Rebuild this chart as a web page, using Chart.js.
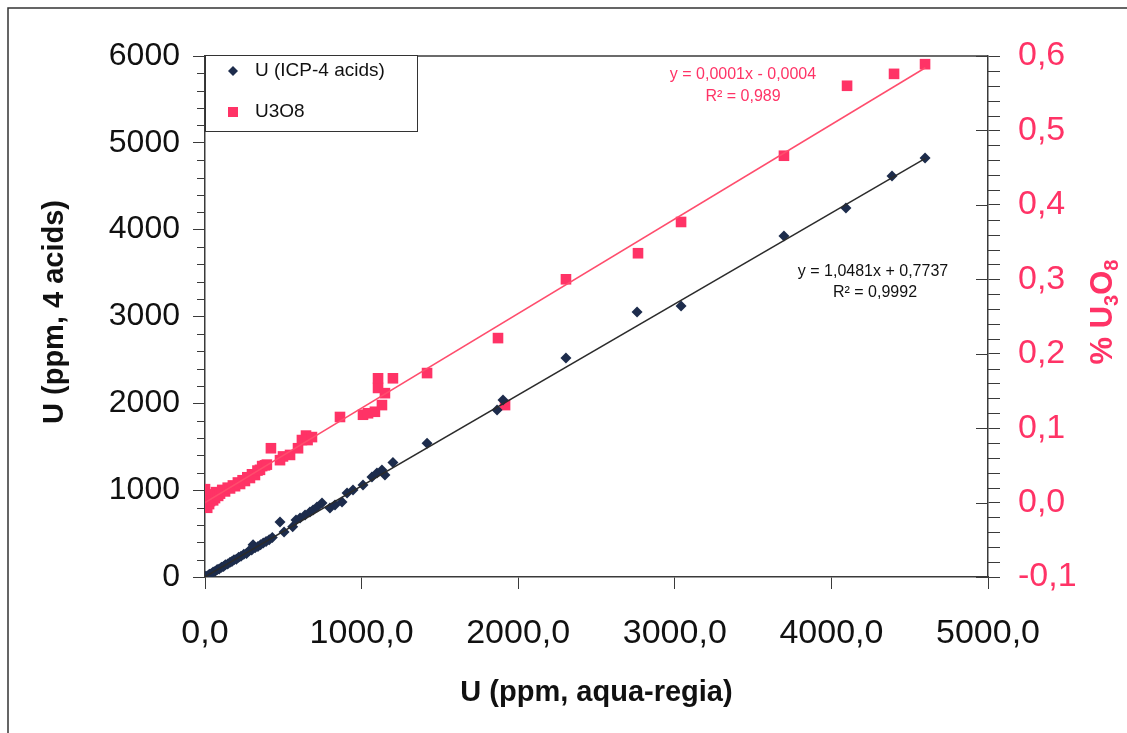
<!DOCTYPE html>
<html>
<head>
<meta charset="utf-8">
<script src="https://cdn.jsdelivr.net/npm/chart.js@4"></script>
<style>
  html,body{margin:0;padding:0;background:#fff}
  #wrap{width:1127px;height:733px;position:relative}
</style>
</head>
<body>
<div id="wrap"><canvas id="c"></canvas></div>
<script>
// U (ppm) by aqua-regia vs U (ppm) by 4-acid digestion
const uAquaRegia = [5,15,28,40,52,65,78,90,105,118,130,145,160,172,185,200,215,230,248,265,280,298,307,320,338,355,372,390,410,430,
  479,505,560,581,607,639,670,690,715,747,798,830,875,907,945,1009,1066,1098,1130,1149,1200,1418,1865,1903,2305,2759,3040,3697,4093,4387,4598];
const uFourAcids = [8,12,32,38,58,66,85,92,112,120,140,150,170,178,198,205,228,240,262,272,298,310,370,338,352,372,392,408,428,455,
  633,518,580,656,679,714,749,772,806,852,795,829,864,967,1002,1060,1152,1198,1232,1175,1320,1540,1923,2038,2522,3052,3121,3927,4250,4618,4826];

// U (ppm) by aqua-regia vs % U3O8
const u3o8AquaRegia = [0,5,10,14,20,26,32,45,52,64,70,84,96,110,128,145,160,178,192,210,224,240,255,270,287,300,319,335,351,365,383,395,421,
  479,498,543,594,619,645,655,683,862,1009,1041,1085,1105,1105,1130,1149,1200,1418,1871,1916,2305,2765,3040,3697,4100,4400,4598];
const u3o8Pct = [0.018,-0.004,0.004,-0.007,0.009,-0.002,0.002,0.011,0.003,0.006,0.014,0.009,0.012,0.017,0.015,0.020,0.019,0.023,0.022,0.027,0.025,0.030,0.029,0.034,0.033,0.038,0.037,0.043,0.044,0.049,0.050,0.051,0.073,
  0.057,0.062,0.064,0.073,0.084,0.090,0.084,0.088,0.115,0.118,0.120,0.122,0.154,0.167,0.131,0.147,0.167,0.174,0.221,0.131,0.300,0.335,0.377,0.466,0.560,0.576,0.589];

// trend lines (as drawn)
const fitU = {slope:1.0481, icept:0.7737};
const fitU3O8 = {slope:0.000127, icept:0.0};
const fitRange = [0, 4600];

const legendLabels = ['U (ICP-4 acids)', 'U3O8'];
const eqU = ['y = 1,0481x + 0,7737', 'R\u00b2 = 0,9992'];
const eqU3O8 = ['y = 0,0001x - 0,0004', 'R\u00b2 = 0,989'];
const xTitle = 'U (ppm, aqua-regia)';
const yTitle = 'U (ppm, 4 acids)';

const F = "'Liberation Sans', Arial, Helvetica, sans-serif";
const BLUE = '#1d2c4c', RED = '#ff3366', AXIS = '#3a3a3a';
const fmt1 = v => (Math.abs(v) < 1e-9 ? 0 : v).toFixed(1).replace('.', ',');

const pts = (xs, ys) => xs.map((x, i) => ({x, y: ys[i]}));
const line = f => fitRange.map(x => ({x, y: f.slope * x + f.icept}));

const decor = {
  id: 'decor',
  afterDraw(chart) {
    const {ctx, chartArea: a, scales} = chart;
    ctx.save();
    // outer frame
    ctx.strokeStyle = '#333'; ctx.lineWidth = 1.5;
    ctx.beginPath(); ctx.moveTo(8, 733); ctx.lineTo(8, 8); ctx.lineTo(1127, 8); ctx.stroke();
    // top of plot area
    ctx.strokeStyle = AXIS; ctx.lineWidth = 1.5;
    ctx.beginPath(); ctx.moveTo(a.left, a.top); ctx.lineTo(a.right, a.top); ctx.stroke();
    // minor ticks
    ctx.lineWidth = 1;
    const y = scales.y, y2 = scales.y2;
    ctx.beginPath();
    for (let v = 200; v < 6000; v += 200) {
      if (v % 1000 === 0) continue;
      const py = Math.round(y.getPixelForValue(v)) + 0.5;
      ctx.moveTo(a.left - 8, py); ctx.lineTo(a.left, py);
    }
    for (let k = -5; k <= 30; k++) {
      const v = k * 0.02;
      const py = Math.round(y2.getPixelForValue(v)) + 0.5;
      if (k % 5 === 0) { ctx.moveTo(a.right - 12, py); ctx.lineTo(a.right, py); }
      else { ctx.moveTo(a.right, py); ctx.lineTo(a.right + 12, py); }
    }
    ctx.stroke();

    // legend
    ctx.fillStyle = '#fff'; ctx.strokeStyle = '#333'; ctx.lineWidth = 1;
    ctx.fillRect(205, 55, 212, 76); ctx.strokeRect(205.5, 55.5, 212, 76);
    ctx.fillStyle = BLUE;
    ctx.beginPath(); ctx.moveTo(233, 66); ctx.lineTo(238, 71); ctx.lineTo(233, 76); ctx.lineTo(228, 71); ctx.closePath(); ctx.fill();
    ctx.fillStyle = RED; ctx.fillRect(228, 107, 10, 10);
    ctx.fillStyle = '#111'; ctx.font = '19px ' + F; ctx.textBaseline = 'middle'; ctx.textAlign = 'left';
    ctx.fillText(legendLabels[0], 255, 71);
    ctx.fillText(legendLabels[1], 255, 112);

    // equations
    ctx.font = '16px ' + F; ctx.textAlign = 'center';
    ctx.fillStyle = RED;
    ctx.fillText(eqU3O8[0], 743, 75); ctx.fillText(eqU3O8[1], 743, 97);
    ctx.fillStyle = '#111';
    ctx.fillText(eqU[0], 873, 272); ctx.fillText(eqU[1], 875, 293);

    // axis titles
    ctx.fillStyle = '#111'; ctx.font = 'bold 29px ' + F;
    ctx.fillText(xTitle, (a.left + a.right) / 2, 693);
    ctx.save(); ctx.translate(55, 312); ctx.rotate(-Math.PI / 2);
    ctx.fillText(yTitle, 0, 0); ctx.restore();

    // right title "% U3O8" with subscripts
    ctx.save(); ctx.translate(1101, 312); ctx.rotate(-Math.PI / 2);
    ctx.fillStyle = RED; ctx.textAlign = 'left'; ctx.textBaseline = 'alphabetic';
    const parts = [['% U', 31, 0], ['3', 20, 6], ['O', 31, 0], ['8', 20, 6]];
    let w = 0;
    parts.forEach(p => { ctx.font = 'bold ' + p[1] + 'px ' + F; w += ctx.measureText(p[0]).width; });
    let x0 = -w / 2;
    parts.forEach(p => { ctx.font = 'bold ' + p[1] + 'px ' + F; ctx.fillText(p[0], x0, 11 + p[2]); x0 += ctx.measureText(p[0]).width; });
    ctx.restore();
    ctx.restore();
  }
};

new Chart(document.getElementById('c'), {
  type: 'scatter',
  data: {
    datasets: [
      {label: 'fitU', data: line(fitU), yAxisID: 'y', showLine: true, borderColor: '#2b2b2b', borderWidth: 1.5, pointRadius: 0, order: 1},
      {label: 'fitU3O8', data: line(fitU3O8), yAxisID: 'y2', showLine: true, borderColor: '#ff4d6d', borderWidth: 1.5, pointRadius: 0, order: 1},
      {label: legendLabels[0], data: pts(uAquaRegia, uFourAcids), yAxisID: 'y', pointStyle: 'rectRot', pointRadius: 5.5,
        backgroundColor: BLUE, borderColor: BLUE, borderWidth: 0, order: 2},
      {label: legendLabels[1], data: pts(u3o8AquaRegia, u3o8Pct), yAxisID: 'y2', pointStyle: 'rect', pointRadius: 7.5,
        backgroundColor: RED, borderColor: RED, borderWidth: 0, order: 3}
    ]
  },
  options: {
    responsive: true, maintainAspectRatio: false, animation: false,
    layout: {padding: {top: 56, left: 0, right: 0, bottom: 0}},
    plugins: {legend: {display: false}, tooltip: {enabled: false}},
    scales: {
      x: {type: 'linear', position: 'bottom', min: 0, max: 5000,
        ticks: {stepSize: 1000, padding: 24, color: '#111', font: {size: 34, family: F}, callback: v => fmt1(v), maxRotation: 0, autoSkip: false},
        grid: {drawOnChartArea: false, drawTicks: true, tickLength: 12, color: AXIS},
        border: {color: AXIS, width: 1.5},
        afterFit: s => { s.height = 156; }},
      y: {type: 'linear', position: 'left', min: 0, max: 6000,
        ticks: {stepSize: 1000, padding: 13, color: '#111', font: {size: 32, family: F}, callback: v => String(v)},
        grid: {drawOnChartArea: false, drawTicks: true, tickLength: 12, color: AXIS},
        border: {color: AXIS, width: 1.5},
        afterFit: s => { s.width = 205; }},
      y2: {type: 'linear', position: 'right', min: -0.1, max: 0.6,
        ticks: {stepSize: 0.1, padding: 18, color: RED, font: {size: 34, family: F}, callback: v => fmt1(v)},
        grid: {drawOnChartArea: false, drawTicks: true, tickLength: 12, color: AXIS},
        border: {color: AXIS, width: 1.5},
        afterFit: s => { s.width = 139; }}
    }
  },
  plugins: [decor]
});
</script>
</body>
</html>
